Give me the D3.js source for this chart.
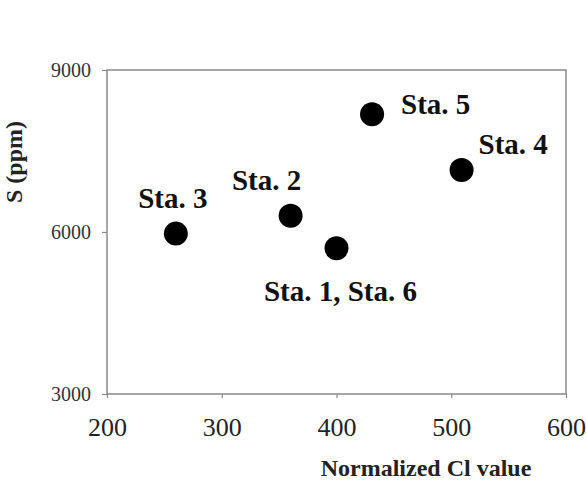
<!DOCTYPE html>
<html>
<head>
<meta charset="utf-8">
<script src="https://cdn.jsdelivr.net/npm/d3@7"></script>
<style>
  body { margin: 0; background: #fff; }
  svg { display: block; }
  svg text { font-family: "Liberation Serif", "DejaVu Serif", serif; }
</style>
</head>
<body>
<div id="chart"></div>
<script>
// station data
const stations = ["Sta. 3", "Sta. 2", "Sta. 1, Sta. 6", "Sta. 5", "Sta. 4"];
const clValues = [260, 360, 400, 431, 509];
const sValues = [5970, 6300, 5700, 8180, 7150];
const xTicks = [200, 300, 400, 500, 600];
const yTicks = [3000, 6000, 9000];

// label offsets relative to each point (px)
const labelPos = [
  { dx: -3, dy: -26, anchor: "middle" },
  { dx: -24, dy: -26, anchor: "middle" },
  { dx: 4, dy: 53, anchor: "middle" },
  { dx: 29, dy: 0, anchor: "start" },
  { dx: 17, dy: -16, anchor: "start" }
];

const width = 586, height = 494;
const margin = { top: 70, right: 20, bottom: 100, left: 107 };

const svg = d3.select("#chart")
  .append("svg")
  .attr("width", width)
  .attr("height", height);

const x = d3.scaleLinear()
  .domain([200, 600])
  .range([margin.left, 566]);
const y = d3.scaleLinear()
  .domain([3000, 9000])
  .range([394, margin.top]);

const axisColor = "#8a8a8a";

// frame
svg.append("rect")
  .attr("x", x(200))
  .attr("y", y(9000))
  .attr("width", x(600) - x(200))
  .attr("height", y(3000) - y(9000))
  .attr("fill", "none")
  .attr("stroke", axisColor)
  .attr("stroke-width", 1.5);

const xAxis = svg.append("g")
  .attr("transform", `translate(0,${y(3000)})`)
  .call(d3.axisBottom(x).tickValues(xTicks).tickSize(4).tickPadding(20).tickFormat(d3.format("d")))
  .attr("font-family", "'Liberation Serif', serif")
  .attr("font-size", 26);
xAxis.select(".domain").remove();
xAxis.selectAll("line").attr("stroke", axisColor).attr("stroke-width", 1.2);
xAxis.selectAll("text").attr("fill", "#222");

const yAxis = svg.append("g")
  .attr("transform", `translate(${x(200)},0)`)
  .call(d3.axisLeft(y).tickValues(yTicks).tickSize(5).tickPadding(11).tickFormat(d3.format("d")))
  .attr("font-family", "'Liberation Serif', serif")
  .attr("font-size", 20);
yAxis.select(".domain").remove();
yAxis.selectAll("line").attr("stroke", axisColor).attr("stroke-width", 1.2);
yAxis.selectAll("text").attr("fill", "#333");

// axis titles
svg.append("text")
  .attr("x", 426)
  .attr("y", 476)
  .attr("text-anchor", "middle")
  .attr("font-weight", "bold")
  .attr("font-size", 24)
  .attr("fill", "#222")
  .text("Normalized Cl value");

svg.append("text")
  .attr("transform", "translate(22,162) rotate(-90)")
  .attr("text-anchor", "middle")
  .attr("font-weight", "bold")
  .attr("font-size", 24)
  .attr("fill", "#222")
  .text("S (ppm)");

// points
svg.append("g")
  .selectAll("circle")
  .data(stations)
  .join("circle")
  .attr("cx", (d, i) => x(clValues[i]))
  .attr("cy", (d, i) => y(sValues[i]))
  .attr("r", 12)
  .attr("fill", "#000");

// labels
svg.append("g")
  .selectAll("text")
  .data(stations)
  .join("text")
  .attr("x", (d, i) => x(clValues[i]) + labelPos[i].dx)
  .attr("y", (d, i) => y(sValues[i]) + labelPos[i].dy)
  .attr("text-anchor", (d, i) => labelPos[i].anchor)
  .attr("font-weight", "bold")
  .attr("font-size", 29)
  .attr("fill", "#111")
  .text(d => d);
</script>
</body>
</html>
